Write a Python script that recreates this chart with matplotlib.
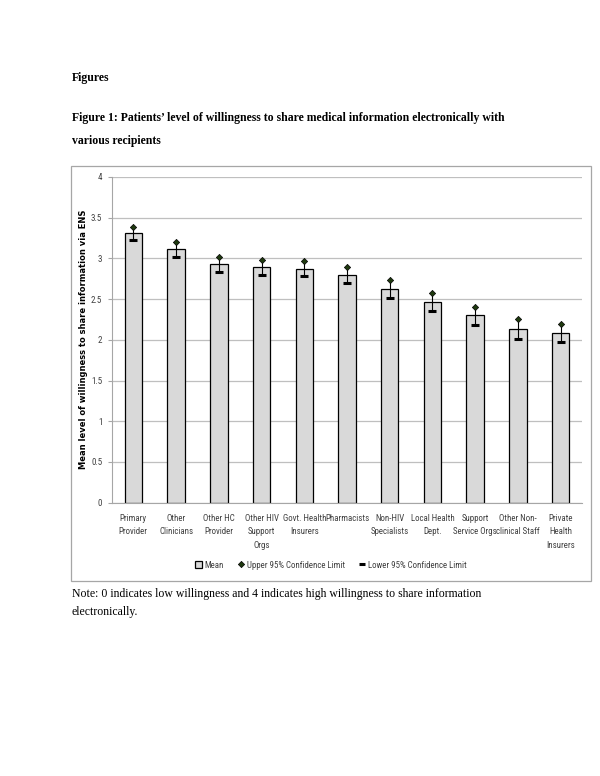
import matplotlib
matplotlib.use("Agg")
import matplotlib.pyplot as plt
from matplotlib.patches import Rectangle
from matplotlib.lines import Line2D
from matplotlib import font_manager
import numpy as np

categories = ["Primary\nProvider", "Other\nClinicians", "Other HC\nProvider",
              "Other HIV\nSupport\nOrgs", "Govt. Health\nInsurers", "Pharmacists",
              "Non-HIV\nSpecialists", "Local Health\nDept.", "Support\nService Orgs",
              "Other Non-\nclinical Staff", "Private\nHealth\nInsurers"]
mean = [3.31, 3.11, 2.93, 2.89, 2.87, 2.80, 2.62, 2.46, 2.30, 2.13, 2.08]
upper = [3.38, 3.20, 3.02, 2.98, 2.97, 2.90, 2.73, 2.57, 2.40, 2.25, 2.19]
lower = [3.23, 3.02, 2.83, 2.79, 2.78, 2.70, 2.51, 2.35, 2.18, 2.01, 1.97]

serif = ["Liberation Serif", "DejaVu Serif"]

# pick a condensed sans if one is installed
names = set(f.name for f in font_manager.fontManager.ttflist)
cond = [f for f in font_manager.fontManager.ttflist
        if f.stretch in ("condensed", "semi-condensed", "extra-condensed", 600, 700) or
        "Narrow" in f.name or "Condensed" in f.name]
narrow_name = None
for want in ["Liberation Sans Narrow", "Roboto Condensed", "Open Sans Condensed", "Noto Sans Condensed"]:
    if want in names:
        narrow_name = want
        break
if narrow_name is None and cond:
    narrow_font = font_manager.FontProperties(fname=cond[0].fname)
else:
    narrow_font = font_manager.FontProperties(family=[narrow_name or "Roboto", "DejaVu Sans"])

fig = plt.figure(figsize=(6, 7.76), dpi=100)
W, H = 600, 776

def fx(px):
    return px / W

def fy(py):
    return 1 - py / H

# page text
fig.text(fx(72), fy(78), "Figures", family=serif, weight="bold", fontsize=8.5, va="center")
fig.text(fx(72), fy(118), "Figure 1: Patients\u2019 level of willingness to share medical information electronically with",
         family=serif, weight="bold", fontsize=8.5, va="center")
fig.text(fx(72), fy(141), "various recipients", family=serif, weight="bold", fontsize=8.5, va="center")
fig.text(fx(72), fy(594), "Note: 0 indicates low willingness and 4 indicates high willingness to share information",
         family=serif, fontsize=8.5, va="center")
fig.text(fx(72), fy(612), "electronically.", family=serif, fontsize=8.5, va="center")

# chart box
fig.patches.append(Rectangle((fx(71), fy(581)), fx(591) - fx(71), fy(165.5) - fy(581),
                             transform=fig.transFigure, fill=False, edgecolor="#a6a6a6", lw=0.9))

ax = fig.add_axes([fx(112), fy(502.6), fx(582) - fx(112), fy(177) - fy(502.6)])
x = np.arange(len(categories))
ax.bar(x, mean, width=0.41, color="#d9d9d9", edgecolor="black", lw=0.9, zorder=2)
ax.vlines(x, lower, upper, color="black", lw=0.8, zorder=3)
ax.plot(x, upper, "D", ms=3.2, mfc="#1f3a0f", mec="black", mew=0.5, ls="none", zorder=4)
ax.plot(x, lower, "_", ms=6, mew=2.2, color="black", ls="none", zorder=4)

ax.set_xlim(-0.5, len(categories) - 0.5)
ax.set_ylim(0, 4)
ax.set_yticks(np.arange(0, 4.01, 0.5))
ax.set_yticklabels(["0", "0.5", "1", "1.5", "2", "2.5", "3", "3.5", "4"],
                   fontproperties=narrow_font, fontsize=6.5, color="#404040")
ax.set_xticks(x)
ax.set_xticklabels(categories, fontproperties=narrow_font, fontsize=6.4, linespacing=1.65,
                   color="#404040")
ax.tick_params(axis="x", length=0, pad=8)
ax.tick_params(axis="y", length=3, color="#a6a6a6", pad=4)
ax.grid(axis="y", color="#bfbfbf", lw=0.9, zorder=0)
ax.set_axisbelow(True)
for s in ["top", "right"]:
    ax.spines[s].set_visible(False)
ax.spines["left"].set_color("#a6a6a6")
ax.spines["bottom"].set_color("#a6a6a6")
ax.set_ylabel("Mean level of willingness to share information via ENS", family=["DejaVu Sans"],
              weight="bold", fontsize=6.0)
ax.yaxis.set_label_coords(-0.051, 0.5)

handles = [
    Rectangle((0, 0), 1, 1, facecolor="#d9d9d9", edgecolor="black", lw=0.9),
    Line2D([], [], marker="D", ms=3.2, mfc="#1f3a0f", mec="black", mew=0.5, ls="none"),
    Line2D([], [], marker="_", ms=5, mew=2.2, color="black", ls="none"),
]
leg_font = narrow_font.copy()
leg_font.set_size(6.4)
fig.legend(handles, ["Mean", "Upper 95% Confidence Limit", "Lower 95% Confidence Limit"],
           loc="center", bbox_to_anchor=(fx(331), fy(565)), ncol=3, frameon=False,
           prop=leg_font, handlelength=0.7, handletextpad=0.3, columnspacing=1.6,
           labelcolor="#404040")

fig.savefig("out.png", dpi=100)
